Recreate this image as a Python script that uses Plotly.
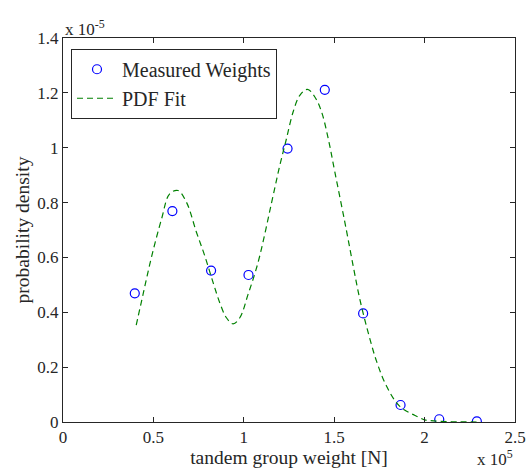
import plotly.graph_objects as go

# Measured weights (x in units of 1e5 N, y in units of 1e-5)
meas_x = [0.397, 0.605, 0.819, 1.026, 1.242, 1.448, 1.660, 1.867, 2.081, 2.289]
meas_y = [0.469, 0.769, 0.552, 0.536, 0.997, 1.211, 0.396, 0.062, 0.010, 0.002]

# PDF fit curve
fit_x = [0.405, 0.443, 0.489, 0.545, 0.590, 0.636, 0.683, 0.738, 0.784, 0.830,
         0.867, 0.904, 0.941, 0.978, 1.024, 1.079, 1.162, 1.199, 1.236, 1.273,
         1.310, 1.352, 1.393, 1.430, 1.467, 1.504, 1.559, 1.605, 1.642, 1.688,
         1.734, 1.790, 1.863, 1.965, 2.000, 2.050, 2.150, 2.306]
fit_y = [0.353, 0.466, 0.600, 0.740, 0.832, 0.844, 0.801, 0.692, 0.606, 0.509,
         0.435, 0.380, 0.358, 0.380, 0.466, 0.582, 0.825, 0.935, 1.033, 1.131,
         1.191, 1.213, 1.185, 1.131, 1.033, 0.910, 0.728, 0.569, 0.447, 0.326,
         0.222, 0.130, 0.057, 0.018, 0.008, 0.004, 0.001, 0.000]

x_ticks = [0, 0.5, 1, 1.5, 2, 2.5]
x_tick_labels = ["0", "0.5", "1", "1.5", "2", "2.5"]
y_ticks = [0, 0.2, 0.4, 0.6, 0.8, 1, 1.2, 1.4]
y_tick_labels = ["0", "0.2", "0.4", "0.6", "0.8", "1", "1.2", "1.4"]

FONT = "Liberation Serif"
fig = go.Figure()
fig.add_trace(go.Scatter(
    x=meas_x, y=meas_y, mode="markers", name="Measured Weights",
    marker=dict(symbol="circle-open", size=9, color="#0000ff", line=dict(width=1.2)),
))
fig.add_trace(go.Scatter(
    x=fit_x, y=fit_y, mode="lines", name="PDF Fit", line_shape="spline",
    line=dict(color="#008000", width=1.2, dash="6px,4px"),
))

axis_common = dict(
    showline=True, linecolor="#262626", linewidth=1, mirror="ticks",
    ticks="inside", ticklen=5, tickcolor="#262626", showgrid=False, zeroline=False,
    tickfont=dict(family=FONT, size=17, color="#262626"),
)
fig.update_xaxes(range=[0, 2.5], tickvals=x_ticks, ticktext=x_tick_labels,
                 title=dict(text="tandem group weight [N]", font=dict(family=FONT, size=19.5, color="#262626"), standoff=2),
                 **axis_common)
fig.update_yaxes(range=[0, 1.4], tickvals=y_ticks, ticktext=y_tick_labels,
                 title=dict(text="probability density", font=dict(family=FONT, size=19.5, color="#262626"), standoff=2),
                 **axis_common)

fig.add_annotation(x=0, y=1.0, xref="paper", yref="paper", xanchor="left", yanchor="bottom",
                   text="x 10<sup>-5</sup>", showarrow=False, yshift=-3,
                   font=dict(family=FONT, size=17, color="#262626"))
fig.add_annotation(x=1.0, y=0, xref="paper", yref="paper", xanchor="right", yanchor="bottom",
                   text="x 10<sup>5</sup>", showarrow=False, yshift=-49,
                   font=dict(family=FONT, size=17, color="#262626"))

fig.update_layout(
    width=526, height=471,
    margin=dict(l=63, r=11, t=38, b=49, autoexpand=False),
    paper_bgcolor="white", plot_bgcolor="white",
    showlegend=True,
    legend=dict(x=0.0177, y=0.972, xanchor="left", yanchor="top",
                bordercolor="#262626", borderwidth=1, bgcolor="white",
                font=dict(family=FONT, size=20, color="#262626"),
                tracegroupgap=0, itemwidth=40),
)
fig.write_html("out.html", config={"displayModeBar": False},
               post_script="document.body.style.margin='0';")
